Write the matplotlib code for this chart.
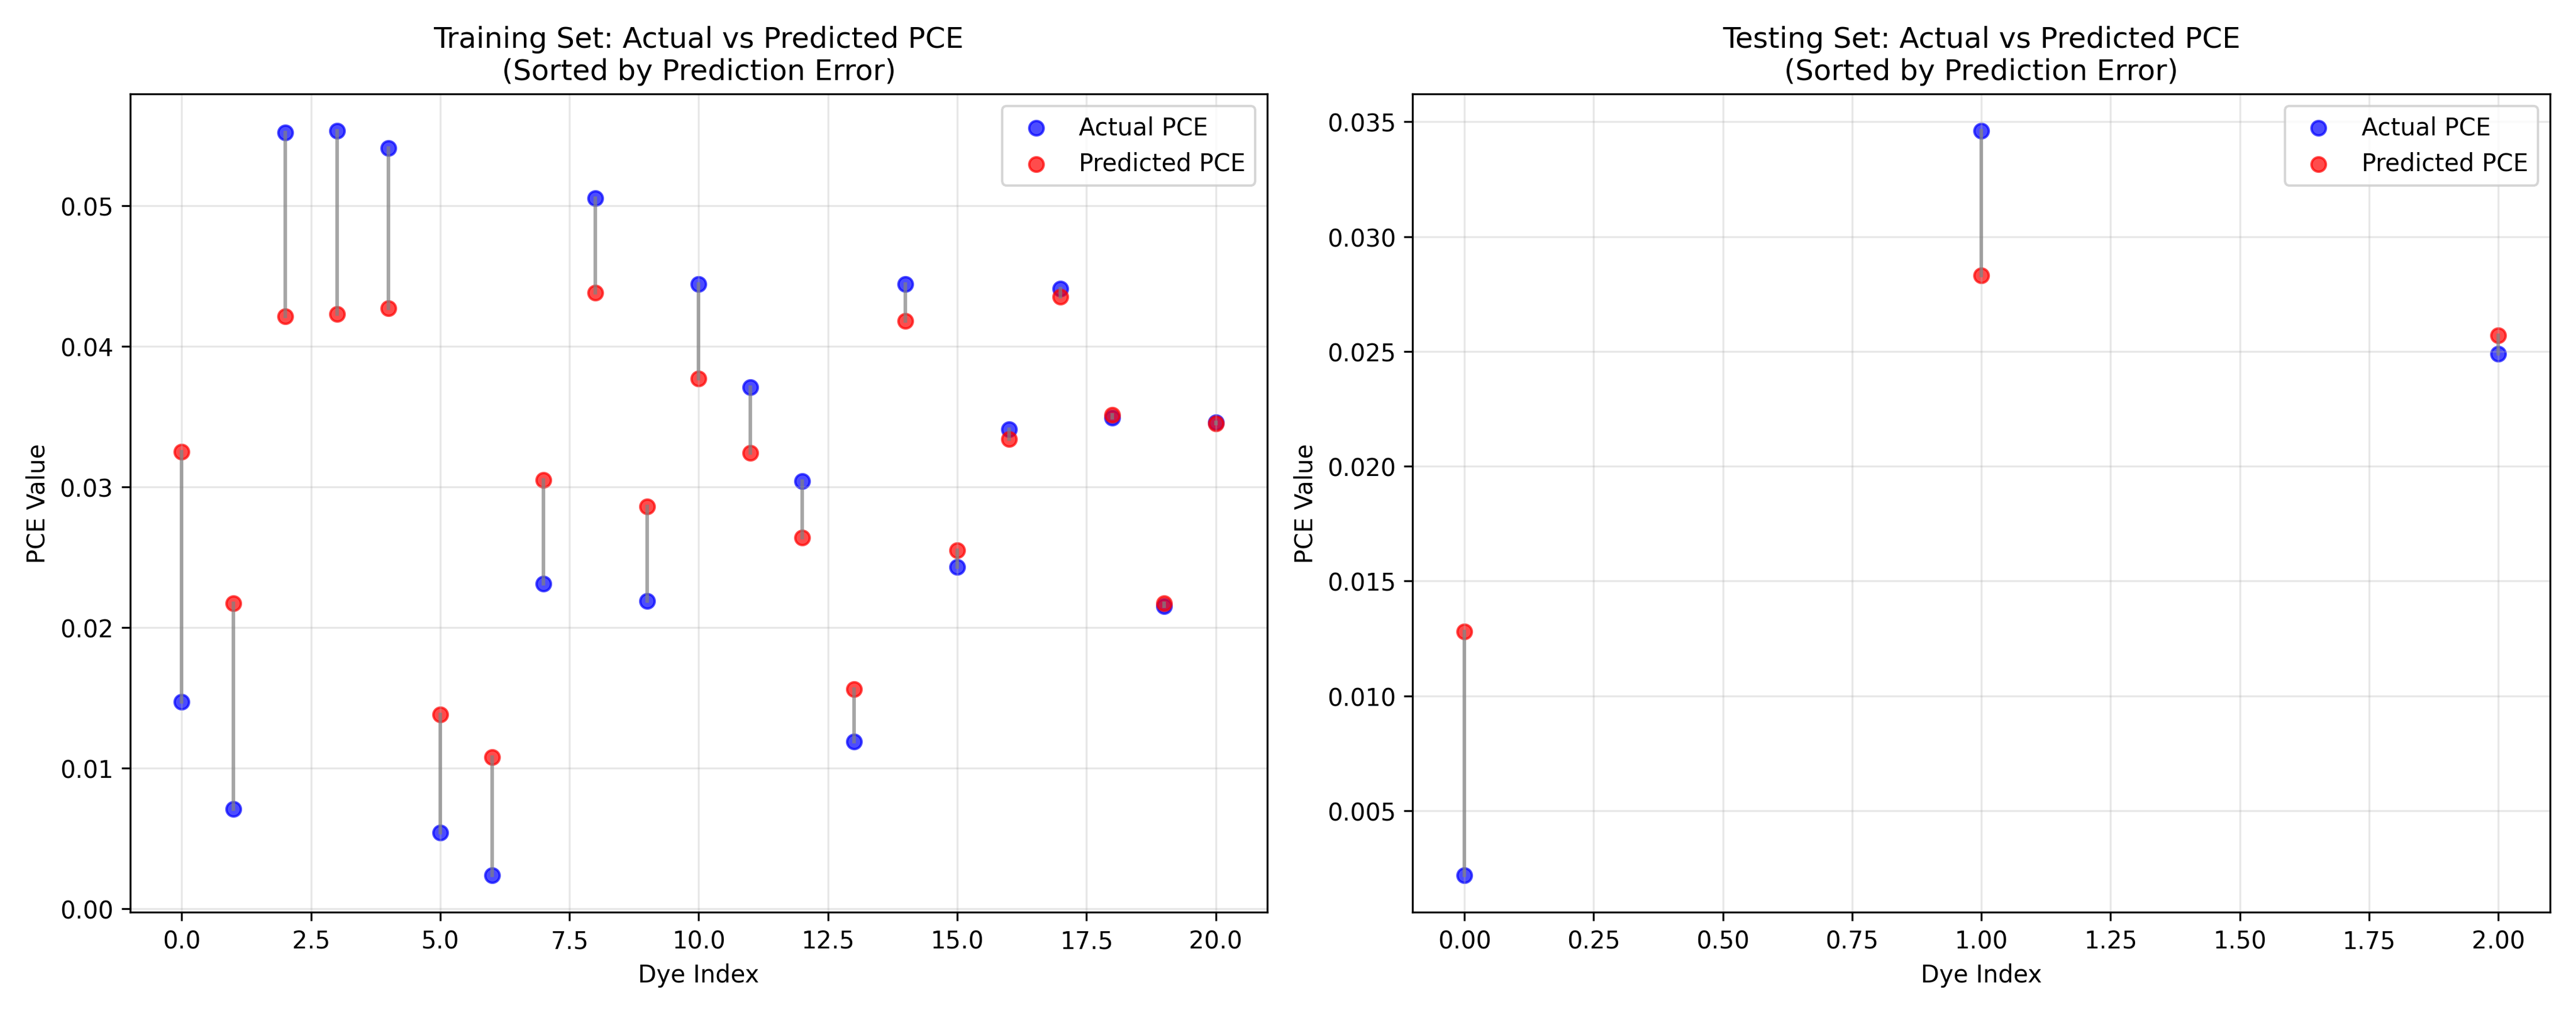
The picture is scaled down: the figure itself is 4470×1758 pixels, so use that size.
import matplotlib
matplotlib.use("Agg")
import matplotlib.pyplot as plt
import numpy as np

train_actual = [0.0147, 0.0071, 0.0552, 0.0553, 0.0541, 0.0054, 0.0024, 0.0231, 0.0505, 0.0219, 0.0444,
                0.0371, 0.0304, 0.0119, 0.0444, 0.0243, 0.0341, 0.0441, 0.0349, 0.0215, 0.0346]
train_pred = [0.0325, 0.0217, 0.0421, 0.0423, 0.0427, 0.0138, 0.0108, 0.0305, 0.0438, 0.0286, 0.0377,
              0.0324, 0.0264, 0.0156, 0.0418, 0.0255, 0.0334, 0.0435, 0.0351, 0.0217, 0.0345]
test_actual = [0.0022, 0.0346, 0.0249]
test_pred = [0.0128, 0.0283, 0.0257]

fig, axes = plt.subplots(1, 2, figsize=(14.9, 5.863), dpi=300)
for ax, act, pred, name in [(axes[0], train_actual, train_pred, "Training"),
                            (axes[1], test_actual, test_pred, "Testing")]:
    x = np.arange(len(act))
    for xi, a, p in zip(x, act, pred):
        ax.plot([xi, xi], [a, p], color="gray", alpha=0.7, linewidth=1.5)
    ax.scatter(x, act, color="blue", alpha=0.7, label="Actual PCE", s=36)
    ax.scatter(x, pred, color="red", alpha=0.7, label="Predicted PCE", s=36)
    ax.set_title(f"{name} Set: Actual vs Predicted PCE\n(Sorted by Prediction Error)")
    ax.set_xlabel("Dye Index")
    ax.set_ylabel("PCE Value")
    ax.legend(loc="upper right")
    ax.grid(True, alpha=0.3)
fig.tight_layout()
fig.savefig("out.png")
